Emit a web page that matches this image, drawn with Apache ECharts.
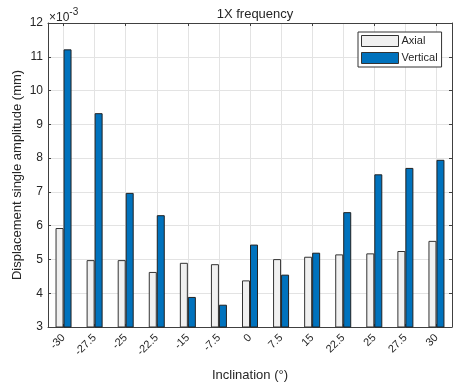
<!DOCTYPE html>
<html>
<head>
<meta charset="utf-8">
<script src="https://cdn.jsdelivr.net/npm/echarts@6/dist/echarts.min.js"></script>
<style>
  html, body { margin: 0; padding: 0; background: #fff; }
  #main { width: 457px; height: 386px; }
</style>
</head>
<body>
<div id="main"></div>
<script>
// inclination angles (deg)
var inclinations = ["-30", "-27.5", "-25", "-22.5", "-15", "-7.5", "0", "7.5", "15", "22.5", "25", "27.5", "30"];
// displacement single amplitude, in units of 1e-3 mm
var axialVals = [5.93, 4.98, 4.98, 4.63, 4.90, 4.86, 4.38, 5.01, 5.08, 5.15, 5.18, 5.25, 5.55];
var verticalVals = [11.22, 9.33, 6.97, 6.31, 3.89, 3.66, 5.44, 4.55, 5.20, 6.40, 7.52, 7.71, 7.95];
var yMin = 3, yMax = 12, yStep = 1;

var font = "Liberation Sans, Arial, sans-serif";
var axisCol = "#404040";
var gridCol = "#e3e3e3";

var myChart = echarts.init(document.getElementById("main"));
myChart.setOption({
  animation: false,
  textStyle: { fontFamily: font },
  title: {
    text: "1X frequency",
    left: 250,
    textAlign: "center",
    top: 3,
    textStyle: { fontSize: 13, fontWeight: "normal", color: "#262626", fontFamily: font }
  },
  grid: { left: 48, right: 5, top: 23, bottom: 59, outerBoundsMode: "none", containLabel: false },
  legend: {
    orient: "vertical",
    left: 358,
    top: 32,
    padding: [3, 4, 3, 3],
    itemWidth: 37,
    itemHeight: 11,
    itemGap: 5,
    borderColor: "#333",
    borderWidth: 1,
    backgroundColor: "#fff",
    textStyle: { fontSize: 11, color: "#262626", fontFamily: font, padding: [0, 0, 0, -2] },
    data: [
      { name: "Axial", icon: "rect", itemStyle: { color: "#f0f0f0", borderColor: "#333", borderWidth: 1 } },
      { name: "Vertical", icon: "rect", itemStyle: { color: "#0072bd", borderColor: "#333", borderWidth: 1 } }
    ]
  },
  graphic: [
    {
      type: "text",
      left: 49,
      top: 7,
      style: {
        text: "{a|\u00d710}{b|-3}",
        rich: {
          a: { fontSize: 12, fontFamily: font, fill: "#262626", padding: [5, 0, 0, 0] },
          b: { fontSize: 10, fontFamily: font, fill: "#262626", verticalAlign: "top" }
        }
      }
    }
  ],
  xAxis: [
    {
      type: "category",
      data: inclinations,
      name: "Inclination (\u00b0)",
      nameLocation: "middle",
      nameGap: 42,
      nameTextStyle: { fontSize: 13, color: "#262626", fontFamily: font },
      axisLine: { lineStyle: { color: axisCol, width: 1 } },
      axisTick: { show: true, inside: true, length: 3, alignWithLabel: true, lineStyle: { color: axisCol } },
      axisLabel: { rotate: 45, fontSize: 11, color: "#262626", margin: 9, fontFamily: font },
      splitLine: { show: true, alignWithLabel: true, lineStyle: { color: gridCol, width: 1 } }
    },
    {
      type: "category",
      data: inclinations,
      position: "top",
      axisLine: { lineStyle: { color: axisCol, width: 1 } },
      axisTick: { show: true, inside: true, length: 3, alignWithLabel: true, lineStyle: { color: axisCol } },
      axisLabel: { show: false },
      splitLine: { show: false }
    }
  ],
  yAxis: [
    {
      type: "value",
      min: yMin,
      max: yMax,
      interval: yStep,
      name: "Displacement single amplitude (mm)",
      nameLocation: "middle",
      nameMoveOverlap: false,
      nameGap: 24,
      nameTextStyle: { fontSize: 13, color: "#262626", fontFamily: font },
      axisLine: { show: true, lineStyle: { color: axisCol, width: 1 } },
      axisTick: { show: true, inside: true, length: 3, lineStyle: { color: axisCol } },
      axisLabel: { fontSize: 12, color: "#262626", margin: 5, fontFamily: font },
      splitLine: { show: true, lineStyle: { color: gridCol, width: 1 } }
    },
    {
      type: "value",
      min: yMin,
      max: yMax,
      interval: yStep,
      position: "right",
      axisLine: { show: true, lineStyle: { color: axisCol, width: 1 } },
      axisTick: { show: true, inside: true, length: 3, lineStyle: { color: axisCol } },
      axisLabel: { show: false },
      splitLine: { show: false }
    }
  ],
  series: [
    {
      name: "Axial",
      type: "bar",
      barWidth: 8,
      barGap: "0%",
      data: axialVals,
      itemStyle: { color: "#f0f0f0", borderColor: "#333", borderWidth: 1 }
    },
    {
      name: "Vertical",
      type: "bar",
      barWidth: 8,
      barGap: "0%",
      data: verticalVals,
      itemStyle: { color: "#0072bd", borderColor: "#222", borderWidth: 1 }
    }
  ]
});
</script>
</body>
</html>
